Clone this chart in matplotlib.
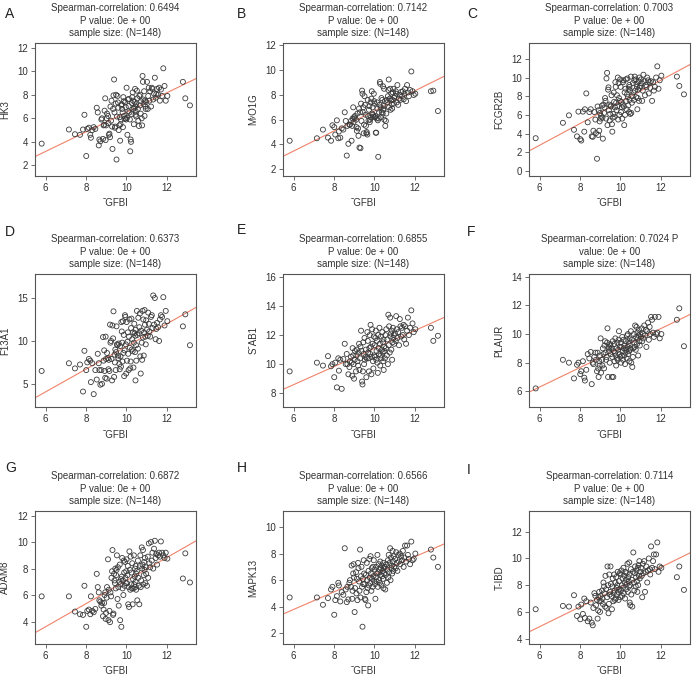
import numpy as np
import matplotlib.pyplot as plt

plt.rcParams['font.family'] = ['Liberation Sans', 'DejaVu Sans']

# TGFBI expression (shared x axis, 148 samples)
tgfbi = [5.80, 7.15, 7.45, 7.70, 7.85, 7.92,
         8.01, 8.06, 8.14, 8.21, 8.24, 8.31, 8.38, 8.46,
         8.53, 8.58, 8.63, 8.66, 8.71, 8.76, 8.79, 8.84, 8.87, 8.90, 8.92, 8.95, 8.97, 8.99,
         9.02, 9.04, 9.09, 9.11, 9.13, 9.16, 9.19, 9.21, 9.24, 9.26,
         9.29, 9.31, 9.34, 9.36, 9.39, 9.41, 9.43, 9.45, 9.47, 9.49,
         9.51, 9.53, 9.56, 9.58, 9.60, 9.62, 9.65, 9.67, 9.69, 9.71, 9.73, 9.75,
         9.77, 9.79, 9.81, 9.83, 9.85, 9.87, 9.89, 9.91, 9.93, 9.95, 9.97, 9.99,
         10.01, 10.03, 10.05, 10.07, 10.09, 10.11, 10.13, 10.15, 10.17, 10.19, 10.21, 10.23, 10.25, 10.27,
         10.29, 10.31, 10.33, 10.35, 10.37, 10.39, 10.41, 10.43, 10.44, 10.45, 10.46, 10.48, 10.49,
         10.52, 10.54, 10.57, 10.59, 10.62, 10.64, 10.67, 10.69, 10.71, 10.73, 10.76,
         10.78, 10.80, 10.82, 10.84, 10.86, 10.88, 10.90, 10.92, 10.94, 10.96, 10.98,
         11.02, 11.06, 11.08, 11.11, 11.14, 11.18, 11.22, 11.26, 11.29, 11.33, 11.37, 11.41, 11.45, 11.48,
         11.52, 11.57, 11.62, 11.66, 11.71, 11.77, 11.83, 11.89, 11.95, 12.03,
         12.80, 12.92, 13.15]

hk3 = [3.85, 5.05, 4.65, 4.6, 5.05, 6.3,
       2.8, 5.1, 5.2, 4.6, 4.35, 5.0, 5.25, 5.1,
       6.9, 6.5, 3.7, 4.2, 4.05, 5.9, 6.0, 4.25, 5.4, 5.45, 6.65, 7.7, 4.15, 5.4,
       6.0, 6.4, 6.2, 5.6, 4.6, 4.7, 4.4, 7.0, 5.8, 7.5, 5.3, 3.4, 6.8, 7.95, 9.3, 6.5, 5.2, 5.3, 7.25, 8.0,
       2.5, 6.15, 7.9, 7.35, 6.9, 5.0, 5.4, 6.1, 4.1, 5.5, 5.9, 7.1, 7.2, 6.8, 6.5, 5.25, 7.8, 7.45, 6.2, 5.95,
       7.35, 6.0, 6.95, 5.9,
       8.6, 6.05, 4.6, 7.6, 6.6, 7.05, 7.65, 6.5, 5.9, 3.2, 4.2, 4.0, 6.35, 7.3, 7.8, 8.2, 7.5, 6.8, 5.5, 6.9,
       7.4, 8.5, 7.0, 6.3, 6.6, 7.2, 6.15,
       8.35, 7.7, 6.8, 5.8, 5.35, 7.9, 7.1, 8.0, 6.4, 7.45, 6.0, 5.4, 9.6, 9.1, 7.6, 7.2, 8.3, 6.2, 7.5, 7.0,
       6.8, 7.4,
       9.1, 6.8, 7.9, 8.6, 7.5, 8.3, 7.0, 8.6, 8.5, 7.6, 8.1, 9.45, 7.75, 8.05,
       8.5, 8.0, 8.6, 7.5, 8.45, 7.9, 10.25, 8.75, 7.5, 7.9,
       9.1, 7.7, 7.1]

myo1g = [4.3, 4.5, 5.2, 4.55, 4.3, 5.55,
         5.4, 4.8, 5.95, 4.5, 5.05, 4.55, 5.3, 5.2,
         6.6, 5.9, 3.1, 5.5, 4.05, 5.6, 5.6, 5.9, 4.3, 5.5, 6.1, 7.0, 5.8, 6.2,
         6.1, 6.3, 6.0, 5.4, 5.1, 6.5, 5.3, 4.7, 6.9, 3.75, 6.6, 3.7, 7.3, 5.9, 8.35, 8.1, 6.6, 7.0, 4.9, 5.6,
         7.9, 7.2, 6.4, 5.5, 4.9, 5.0, 4.8, 7.6, 6.3, 5.95, 6.8, 7.1, 5.8, 6.0, 7.4, 6.2, 7.7, 8.3, 6.5, 7.0,
         6.4, 6.25, 8.1, 7.5,
         7.3, 6.2, 6.3, 4.95, 4.95, 6.1, 7.4, 6.9, 5.95, 3.0, 6.1, 6.6, 7.2, 9.05, 8.9, 7.0, 6.2, 7.75, 6.6, 7.6,
         6.5, 8.7, 6.8, 7.1, 6.9, 8.5, 6.0,
         7.5, 5.5, 5.9, 6.5, 7.6, 7.4, 7.9, 8.4, 9.25, 7.0, 7.7, 8.5, 6.8, 7.55, 8.1, 7.25, 6.9, 7.6, 8.2, 8.5,
         7.3, 7.8,
         7.9, 8.3, 8.1, 7.4, 8.8, 7.2, 7.7, 8.0, 7.6, 8.25, 7.9, 8.3, 7.65, 8.1,
         8.5, 7.5, 8.8, 8.2, 7.9, 8.4, 9.9, 8.3, 8.0, 8.1,
         8.3, 8.35, 6.7]

fcgr2b = [3.5, 5.15, 5.95, 4.4, 3.7, 6.35,
          3.4, 3.25, 6.35, 4.2, 6.6, 8.3, 5.2, 6.3,
          6.6, 3.7, 3.65, 4.3, 6.3, 5.5, 4.05, 1.3, 6.9, 3.85, 6.5, 4.3, 5.3, 6.2,
          5.6, 5.9, 7.0, 5.7, 3.45, 7.1, 6.2, 6.8, 7.8, 7.5, 5.6, 9.9, 10.5, 4.9, 8.7, 8.95, 6.5, 7.1, 5.4, 6.1,
          7.0, 6.9, 8.1, 5.0, 4.2, 5.7, 6.1, 8.4, 7.4, 5.8, 6.8, 9.5, 9.0, 7.3, 6.5, 8.1, 6.9, 10.0, 5.5, 9.4,
          7.8, 6.0, 7.5, 9.8,
          9.0, 6.3, 7.4, 6.8, 5.6, 7.1, 9.5, 9.7, 6.9, 4.9, 8.4, 6.0, 8.8, 9.8, 7.5, 6.6, 8.2, 9.9, 7.9, 7.0,
          8.8, 6.3, 9.2, 9.0, 7.6, 8.6, 6.1,
          10.1, 6.2, 7.3, 8.0, 9.4, 8.4, 7.6, 9.7, 10.1, 8.6, 9.8, 7.9, 9.3, 9.0, 6.6, 7.8, 8.7, 9.6, 7.5, 10.0,
          8.9, 9.1,
          9.8, 9.4, 7.5, 8.6, 10.3, 9.6, 8.1, 9.2, 9.0, 10.0, 9.7, 8.3, 9.5, 8.9,
          9.6, 7.5, 9.5, 8.6, 9.0, 10.0, 11.2, 8.8, 9.7, 10.2,
          10.1, 9.1, 8.2]

f13a1 = [6.5, 7.4, 6.8, 7.25, 4.1, 8.85,
         6.6, 7.5, 7.9, 7.7, 5.2, 7.4, 3.8, 6.6,
         5.5, 8.5, 7.4, 6.6, 4.9, 6.6, 5.0, 10.45, 7.7, 8.9, 6.5, 5.7, 10.5, 7.9,
         5.6, 8.6, 8.0, 6.7, 7.8, 6.5, 11.9, 9.8, 10.0, 7.9, 5.4, 11.8, 10.3, 13.45, 5.8, 8.4, 7.5, 9.0, 6.6, 8.7,
         11.7, 9.6, 9.5, 8.3, 8.0, 9.7, 7.3, 6.7, 9.4, 8.2, 7.0, 12.2, 11.1, 9.8, 7.6, 12.3, 8.6, 10.7, 5.9, 8.9,
         13.0, 12.8, 9.6, 6.2,
         12.2, 7.7, 9.9, 11.0, 8.5, 6.6, 10.5, 12.5, 9.2, 6.8, 7.6, 11.5, 12.6, 9.0, 10.2, 8.8, 11.0, 6.9, 9.8, 12.0,
         10.9, 8.7, 10.6, 5.4, 11.3, 9.5, 7.7,
         13.5, 10.7, 9.1, 12.7, 10.9, 11.6, 13.2, 8.2, 6.2, 11.2, 9.8, 7.8, 13.5, 10.4, 12.5, 8.3, 11.0, 13.6,
         11.9, 10.5, 9.6, 12.4,
         11.3, 10.6, 13.3, 12.0, 11.1, 10.5, 12.8, 13.0, 11.5, 15.3, 11.9, 15.0, 10.2, 11.4,
         12.1, 11.6, 10.0, 12.5, 13.0, 12.8, 15.1, 11.8, 13.5, 12.3,
         11.7, 13.1, 9.5]

stab1 = [9.5, 10.1, 9.9, 10.55, 9.85, 10.0,
         9.1, 10.1, 8.4, 10.4, 9.55, 10.3, 8.3, 10.35,
         11.4, 10.0, 10.7, 10.0, 9.3, 9.8, 10.2, 10.5, 10.1, 9.2, 11.1, 10.6, 10.0, 9.0,
         10.3, 10.9, 9.5, 10.6, 11.0, 10.2, 9.9, 10.8, 11.4, 9.6, 10.4, 11.2, 12.3, 10.9, 8.8, 8.6, 9.5, 11.5,
         10.7, 10.0,
         11.8, 10.3, 10.5, 11.0, 9.1, 10.4, 12.2, 11.6, 10.8, 10.4, 9.5, 11.1, 12.0, 10.7, 12.7, 11.2, 9.3, 10.5,
         12.4, 11.4, 10.2, 9.7, 11.9, 10.6,
         11.3, 10.5, 11.8, 12.3, 10.3, 10.9, 11.6, 10.1, 9.4, 12.0, 11.1, 10.7, 12.5, 11.4, 9.9, 10.6, 11.9, 10.4,
         11.0, 12.2, 10.8, 11.5, 10.2, 11.7, 9.6, 11.2, 10.9,
         10.4, 12.0, 11.1, 12.4, 10.6, 11.7, 10.0, 13.4, 11.3, 12.6, 10.8, 13.2, 11.9, 12.1, 11.0, 12.3, 10.3,
         11.5, 12.5, 11.8, 12.0, 11.4,
         12.1, 11.6, 13.3, 12.4, 11.8, 12.2, 11.3, 13.1, 12.6, 11.9, 12.5, 12.0, 12.7, 11.7,
         12.6, 11.4, 12.3, 13.2, 12.0, 12.5, 13.7, 12.8, 12.2, 12.4,
         12.5, 11.6, 11.95]

plaur = [6.2, 8.2, 8.0, 6.9, 7.85, 8.0,
         7.2, 7.4, 8.1, 6.95, 6.75, 7.5, 8.6, 8.3,
         8.75, 6.5, 8.0, 7.9, 8.4, 8.7, 8.2, 7.4, 8.7, 7.6, 7.0, 8.1, 7.8, 8.5,
         9.7, 7.3, 8.2, 7.8, 9.0, 8.6, 7.6, 9.2, 9.5, 8.7, 8.2, 8.4, 9.4, 10.4, 7.0, 9.1, 8.8, 9.0, 8.0, 9.3,
         9.2, 8.6, 9.0, 7.0, 8.4, 9.5, 7.0, 8.8, 9.3, 8.1, 8.7, 9.7, 8.5, 7.8, 9.0, 8.3, 9.4, 8.2, 8.9, 9.6,
         10.2, 8.6, 9.1, 8.4,
         9.4, 8.0, 9.1, 8.5, 9.8, 8.8, 8.2, 9.6, 9.0, 8.5, 9.2, 7.9, 8.7, 9.5, 8.9, 8.3, 9.9, 9.1, 10.0, 8.6,
         9.3, 8.8, 9.5, 8.1, 9.7, 8.9, 9.0,
         10.2, 8.0, 9.6, 7.7, 8.4, 9.0, 10.0, 9.4, 9.1, 10.6, 8.9, 9.8, 10.5, 9.3, 10.1, 9.7, 8.5, 9.9, 10.3,
         9.5, 9.2, 10.0,
         9.8, 10.4, 9.5, 10.0, 9.7, 10.6, 9.9, 10.3, 9.1, 10.2, 10.8, 9.6, 10.5, 10.0,
         11.2, 11.0, 10.1, 9.8, 11.2, 10.0, 10.1, 11.2, 9.7, 10.0,
         11.0, 11.8, 9.15]

adam8 = [5.9, 5.9, 4.75, 4.55, 4.5, 6.7,
         3.6, 4.8, 4.9, 4.55, 5.9, 4.8, 4.7, 4.95,
         7.6, 6.6, 6.2, 5.6, 5.5, 5.2, 5.4, 4.4, 4.9, 5.4, 6.0, 6.2, 4.2, 4.65,
         5.8, 6.6, 8.7, 4.1, 6.4, 4.8, 3.95, 6.2, 5.9, 7.3, 7.8, 9.4, 4.5, 4.6, 7.6, 7.1, 6.9, 8.0, 6.5, 7.5,
         7.9, 9.0, 5.7, 8.1, 6.6, 5.2, 7.0, 8.3, 4.1, 6.8, 7.2, 3.6, 7.4, 8.8, 6.5, 7.1, 6.0, 8.6, 7.7, 6.7,
         8.5, 7.3, 6.9, 7.8,
         8.7, 6.9, 7.5, 8.2, 5.3, 6.6, 5.1, 9.3, 7.9, 6.4, 8.9, 6.8, 7.7, 6.5, 8.4, 5.3, 7.2, 6.5, 9.0, 6.8,
         7.4, 8.0, 6.6, 7.0, 8.2, 6.4, 7.6,
         7.8, 5.6, 8.6, 7.3, 6.7, 5.3, 8.2, 9.0, 6.6, 7.1, 9.6, 8.0, 8.3, 9.4, 6.8, 7.5, 8.5, 7.9, 8.8, 6.9,
         8.1, 7.6,
         6.7, 8.9, 7.3, 9.9, 8.4, 8.1, 10.0, 8.6, 9.2, 8.0, 9.5, 10.1, 8.8, 9.1,
         8.3, 9.0, 9.2, 8.9, 10.05, 9.2, 9.0, 8.8, 9.2, 8.75,
         7.25, 9.15, 6.95]

mapk13 = [4.7, 4.7, 4.15, 4.65, 5.3, 5.5,
          3.4, 4.5, 4.8, 5.8, 5.6, 4.4, 5.1, 4.9,
          8.4, 5.3, 4.35, 5.5, 4.55, 5.8, 6.0, 5.5, 7.1, 4.6, 5.2, 6.5, 7.2, 6.2,
          3.6, 5.4, 6.6, 5.0, 6.1, 4.5, 7.3, 6.9, 5.9, 5.2, 8.3, 4.7, 6.3, 7.0, 5.5, 2.5, 6.1, 5.7, 7.5, 6.5,
          5.7, 4.6, 4.5, 6.4, 5.1, 7.3, 6.0, 5.4, 4.1, 6.7, 5.6, 7.6, 6.2, 5.8, 7.8, 6.5, 5.2, 6.9, 6.1, 5.5,
          7.0, 6.3, 7.5, 5.9,
          6.8, 5.7, 4.6, 6.2, 7.0, 5.9, 6.5, 7.9, 5.5, 6.6, 7.2, 6.0, 6.8, 5.8, 7.4, 6.4, 6.9, 5.6, 7.1, 6.3,
          6.7, 6.1, 7.3, 5.4, 6.9, 6.5, 7.0,
          7.0, 5.3, 6.4, 7.2, 5.8, 6.8, 7.5, 6.2, 7.9, 6.6, 7.3, 8.4, 6.0, 7.7, 6.9, 7.1, 6.5, 8.2, 7.4, 6.7,
          7.8, 7.0,
          7.6, 6.9, 8.1, 7.3, 6.7, 7.9, 7.4, 8.0, 7.2, 7.8, 7.5, 8.2, 7.0, 7.7,
          8.6, 7.4, 8.6, 7.9, 7.6, 7.2, 8.9, 7.5, 7.6, 8.0,
          8.3, 7.7, 7.0]

thbd = [6.2, 6.45, 6.4, 7.25, 5.7, 6.4,
        5.45, 6.55, 5.85, 7.0, 5.55, 6.8, 5.3, 5.5,
        6.7, 5.2, 5.0, 6.3, 7.4, 7.2, 6.5, 6.9, 5.5, 6.1, 7.1, 7.5, 6.8, 6.0,
        7.2, 6.8, 7.6, 7.0, 6.6, 8.2, 7.9, 7.4, 6.4, 8.7, 7.7, 6.3, 7.1, 9.4, 8.0, 5.9, 6.6, 8.8, 7.3, 7.5,
        9.4, 8.1, 7.2, 6.2, 7.9, 8.5, 6.8, 7.4, 8.8, 7.6, 6.9, 8.2, 7.0, 8.6, 7.8, 7.3, 8.0, 9.0, 7.5, 6.9,
        8.3, 7.7, 8.9, 7.1,
        8.8, 7.6, 9.1, 8.0, 7.2, 8.5, 7.8, 9.3, 7.4, 8.7, 8.2, 7.0, 9.0, 8.4, 7.7, 8.9, 8.1, 9.6, 7.5, 8.6,
        8.3, 7.9, 9.7, 8.8, 6.7, 8.0, 6.5,
        9.2, 7.3, 8.4, 6.4, 9.0, 10.45, 8.2, 7.6, 8.9, 9.4, 7.9, 8.6, 9.1, 8.3, 7.5, 9.3, 8.0, 9.5, 8.7, 9.8,
        8.5, 9.0,
        9.3, 8.7, 7.1, 9.6, 8.9, 9.8, 7.5, 9.0, 9.4, 8.2, 9.1, 10.0, 9.2, 8.8,
        10.9, 9.3, 9.8, 10.3, 9.2, 10.3, 11.2, 9.0, 9.4, 9.3,
        8.6, 9.4, 7.65]

panel_letters = ['A', 'B', 'C', 'D', 'E', 'F', 'G', 'H', 'I']
gene_labels = ['HK3', 'M\u02b8O1G', 'FCGR2B', 'F13A1', 'S\u02c9AB1', 'PLAUR', 'ADAM8', 'MAPK13', 'T-IBD']
genes = [hk3, myo1g, fcgr2b, f13a1, stab1, plaur, adam8, mapk13, thbd]
rho = ['0.6494', '0.7142', '0.7003', '0.6373', '0.6855', '0.7024', '0.6872', '0.6566', '0.7114']
# regression lines
fit_slope = [0.83, 0.81, 1.16, 1.32, 0.62, 0.68, 0.87, 0.66, 0.74]
fit_intercept = [-1.79, -1.39, -4.21, -3.85, 4.87, 2.22, -1.61, -0.16, 0.46]
y_limits = [(1.1, 12.4), (1.45, 12.2), (-0.55, 13.7), (2.3, 17.8), (7.05, 16.2),
            (4.9, 14.2), (2.3, 12.35), (1.2, 11.2), (3.6, 13.55)]
y_ticks = [[2, 4, 6, 8, 10, 12], [2, 4, 6, 8, 10, 12], [0, 2, 4, 6, 8, 10, 12], [5, 10, 15],
           [8, 10, 12, 14, 16], [6, 8, 10, 12, 14], [4, 6, 8, 10, 12], [2, 4, 6, 8, 10], [4, 6, 8, 10, 12]]
x_label = '\u02c9GFBI'

W, H = 700, 681
col_left = [35, 283, 529]
row_top = [43, 274, 511]
ax_w, ax_h = 161, 133
letter_pos = [(5, 14), (237, 14), (467, 14), (5, 232), (237, 230), (467, 232),
              (5, 468), (237, 468), (467, 470)]

fig = plt.figure(figsize=(W / 100, H / 100), dpi=100)

for i in range(9):
    r, c = divmod(i, 3)
    ax = fig.add_axes([col_left[c] / W, 1 - (row_top[r] + ax_h) / H, ax_w / W, ax_h / H])
    ax.scatter(tgfbi, genes[i], s=13, facecolors='none', edgecolors='#3a3a3a', linewidths=0.6, zorder=3)
    ax.axline((0, fit_intercept[i]), slope=fit_slope[i], color='#f0826a', lw=0.8, zorder=2)
    ax.set_xlim(5.47, 13.45)
    ax.set_ylim(*y_limits[i])
    ax.set_xticks([6, 8, 10, 12])
    ax.set_yticks(y_ticks[i])
    for s in ax.spines.values():
        s.set_color('#555555')
        s.set_linewidth(0.8)
    ax.tick_params(direction='out', length=3, width=0.6, color='#555555', labelsize=7,
                   labelcolor='#333333', pad=2)
    ax.set_xlabel(x_label, fontsize=7, color='#333333', labelpad=4)
    ax.set_ylabel(gene_labels[i], fontsize=7, color='#333333', labelpad=5)
    if i == 5:
        title = 'Spearman-correlation: %s P\nvalue: 0e + 00\nsample size: (N=148)' % rho[i]
    else:
        title = 'Spearman-correlation: %s\nP value: 0e + 00\nsample size: (N=148)' % rho[i]
    ax.set_title(title, fontsize=7, color='#333333', linespacing=1.3, pad=5)
    lx, ly = letter_pos[i]
    fig.text(lx / W, 1 - ly / H, panel_letters[i], fontsize=10, color='#222222', va='center', ha='left')

fig.savefig('out.png', dpi=100)
